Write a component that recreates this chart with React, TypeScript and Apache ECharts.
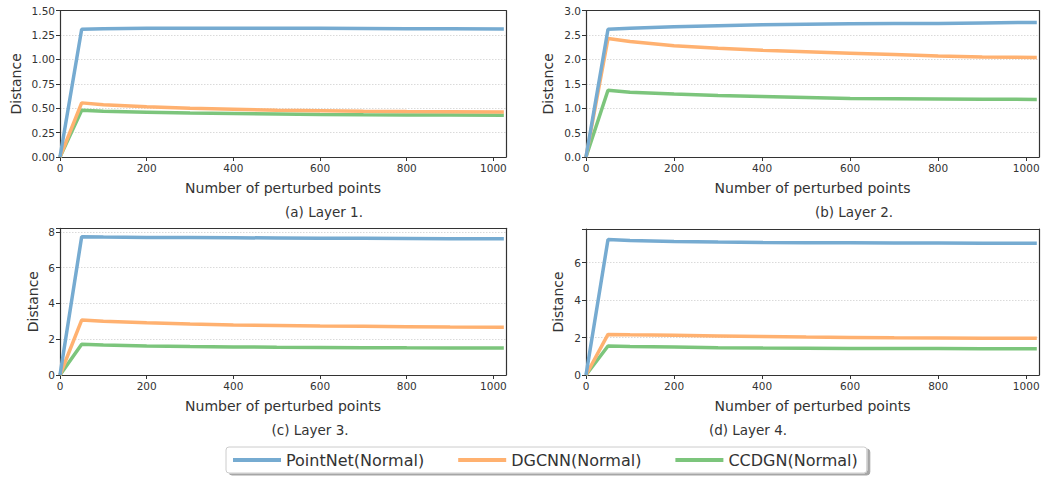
import React, { useEffect, useRef } from "react";
import * as echarts from "echarts";

const xPoints = [0, 50, 100, 200, 300, 400, 500, 600, 700, 800, 900, 1024];
const xTicks = [0, 200, 400, 600, 800, 1000];
const seriesNames = ["PointNet(Normal)", "DGCNN(Normal)", "CCDGN(Normal)"];
const colors = ["#76abd1", "#ffb170", "#7cc57c"];
const captions = ["(a) Layer 1.", "(b) Layer 2.", "(c) Layer 3.", "(d) Layer 4."];

const l1PointNet = [0, 1.31, 1.315, 1.32, 1.32, 1.32, 1.32, 1.32, 1.318, 1.316, 1.314, 1.312];
const l1DGCNN = [0, 0.555, 0.535, 0.515, 0.5, 0.49, 0.48, 0.475, 0.47, 0.466, 0.464, 0.462];
const l1CCDGN = [0, 0.48, 0.47, 0.46, 0.45, 0.445, 0.44, 0.435, 0.432, 0.43, 0.43, 0.428];

const l2PointNet = [0, 2.62, 2.64, 2.67, 2.69, 2.71, 2.72, 2.73, 2.735, 2.74, 2.75, 2.76];
const l2DGCNN = [0, 2.43, 2.37, 2.28, 2.23, 2.19, 2.16, 2.13, 2.1, 2.07, 2.05, 2.04];
const l2CCDGN = [0, 1.37, 1.33, 1.29, 1.26, 1.24, 1.22, 1.2, 1.195, 1.19, 1.185, 1.18];

const l3PointNet = [0, 7.73, 7.71, 7.69, 7.68, 7.67, 7.66, 7.65, 7.64, 7.63, 7.62, 7.61];
const l3DGCNN = [0, 3.07, 3.0, 2.92, 2.85, 2.8, 2.77, 2.74, 2.72, 2.7, 2.68, 2.67];
const l3CCDGN = [0, 1.72, 1.67, 1.62, 1.59, 1.57, 1.55, 1.54, 1.53, 1.52, 1.515, 1.51];

const l4PointNet = [0, 7.24, 7.19, 7.13, 7.1, 7.08, 7.07, 7.06, 7.05, 7.05, 7.04, 7.04];
const l4DGCNN = [0, 2.17, 2.15, 2.12, 2.09, 2.06, 2.03, 2.01, 1.99, 1.98, 1.97, 1.96];
const l4CCDGN = [0, 1.55, 1.52, 1.49, 1.46, 1.44, 1.43, 1.42, 1.41, 1.41, 1.4, 1.4];

const panels = [
  [l1PointNet, l1DGCNN, l1CCDGN],
  [l2PointNet, l2DGCNN, l2CCDGN],
  [l3PointNet, l3DGCNN, l3CCDGN],
  [l4PointNet, l4DGCNN, l4CCDGN],
];
const yMax = [1.5, 3.0, 8.2, 7.8];
const yInterval = [0.25, 0.5, 2, 2];
const yDecimals = [2, 1, 0, 0];

const FONT = "DejaVu Sans";
const SPINE = { color: "#333", width: 1.2 };

export default function App() {
  const ref = useRef<HTMLDivElement>(null);
  useEffect(() => {
    document.body.style.margin = "0";
    if (!ref.current) return;
    const chart = echarts.init(ref.current, undefined, { renderer: "svg" });

    const grids = [
      { left: 60, right: 544, top: 10.7, bottom: 321 },
      { left: 586, right: 11, top: 10.7, bottom: 321 },
      { left: 60, right: 544, top: 228.3, bottom: 103 },
      { left: 586, right: 11, top: 229, bottom: 103 },
    ];
    const yNameGaps = [37, 31, 20, 21];

    const xAxis: any[] = [];
    const yAxis: any[] = [];
    grids.forEach((_, i) => {
      xAxis.push({
        type: "value",
        gridIndex: i,
        min: 0,
        max: 1029,
        interval: 200,
        name: "Number of perturbed points",
        nameLocation: "middle",
        nameGap: 24,
        nameTextStyle: { fontFamily: FONT, fontSize: 14, color: "#333" },
        axisLine: { show: true, onZero: false, lineStyle: SPINE },
        axisTick: { show: true, length: 4, lineStyle: { color: "#333" }, customValues: xTicks },
        axisLabel: {
          fontFamily: FONT,
          fontSize: 10.5,
          color: "#333",
          margin: 5,
          customValues: xTicks,
          formatter: (v: number) => String(v),
        },
        splitLine: { show: false },
      });
      yAxis.push({
        type: "value",
        gridIndex: i,
        min: 0,
        max: yMax[i],
        interval: yInterval[i],
        name: "Distance",
        nameLocation: "middle",
        nameGap: yNameGaps[i],
        nameTextStyle: { fontFamily: FONT, fontSize: 14, color: "#333" },
        axisLine: { show: true, lineStyle: SPINE },
        axisTick: { show: true, length: 4, lineStyle: { color: "#333" } },
        axisLabel: {
          fontFamily: FONT,
          fontSize: 10.5,
          color: "#333",
          margin: 5,
          formatter: (v: number) => {
            const r = Math.round(v / yInterval[i]) * yInterval[i];
            if (Math.abs(r - v) > 1e-6) return "";
            return v.toFixed(yDecimals[i]);
          },
        },
        splitLine: { show: true, lineStyle: { color: "#d0d0d0", type: [1.5, 1.5], width: 0.8 } },
      });
    });
    // top and right spines
    grids.forEach((_, i) => {
      xAxis.push({
        type: "value",
        gridIndex: i,
        position: "top",
        min: 0,
        max: 1029,
        z: 10,
        axisLine: { show: true, onZero: false, lineStyle: SPINE },
        axisTick: { show: false },
        axisLabel: { show: false },
        splitLine: { show: false },
      });
      yAxis.push({
        type: "value",
        gridIndex: i,
        position: "right",
        min: 0,
        max: yMax[i],
        z: 10,
        axisLine: { show: true, onZero: false, lineStyle: SPINE },
        axisTick: { show: false },
        axisLabel: { show: false },
        splitLine: { show: false },
      });
    });

    const series: any[] = [];
    panels.forEach((panel, pi) => {
      panel.forEach((vals, si) => {
        series.push({
          type: "line",
          name: seriesNames[si],
          xAxisIndex: pi,
          yAxisIndex: pi,
          data: xPoints.map((x, k) => [x, vals[k]]),
          symbol: "none",
          smooth: false,
          lineStyle: { color: colors[si], width: 3.5 },
          itemStyle: { color: colors[si] },
          z: 2 + (2 - si),
        });
      });
    });

    const captionPos = [
      [324, 212],
      [854, 212],
      [310, 430],
      [748, 430],
    ];

    chart.setOption({
      animation: false,
      grid: grids.map((g) => ({ ...g })),
      xAxis,
      yAxis,
      series,
      legend: {
        data: seriesNames,
        left: 226,
        top: 447,
        itemWidth: 48,
        itemHeight: 4,
        itemGap: 34,
        icon: "rect",
        padding: [5, 9, 5, 7],
        borderColor: "#cccccc",
        borderWidth: 1,
        borderRadius: 3,
        backgroundColor: "#ffffff",
        shadowColor: "rgba(0,0,0,0.35)",
        shadowOffsetX: 3,
        shadowOffsetY: 2,
        shadowBlur: 0,
        textStyle: { fontFamily: FONT, fontSize: 16, color: "#333" },
      },
      graphic: captionPos.map((p, i) => ({
        type: "text",
        x: p[0],
        y: p[1],
        style: {
          text: captions[i],
          fontFamily: FONT,
          fontSize: 13.5,
          fill: "#333",
          textAlign: "center",
          textVerticalAlign: "middle",
        },
      })),
    });
    return () => chart.dispose();
  }, []);
  return <div ref={ref} style={{ width: 1050, height: 478 }} />;
}
